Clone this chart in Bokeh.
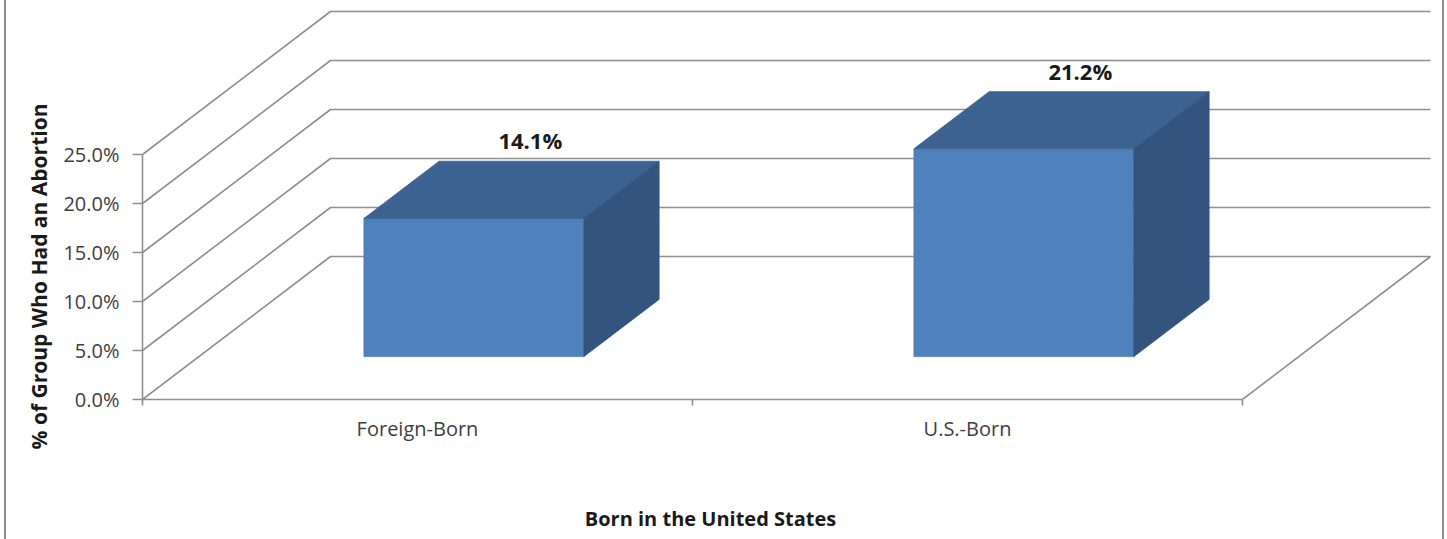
from bokeh.plotting import figure
from bokeh.models import Range1d, FixedTicker, PrintfTickFormatter, LinearAxis
from bokeh.embed import file_html
from bokeh.resources import INLINE
from bokeh.core.properties import value

# ---------------- data ----------------
categories = ["Foreign-Born", "U.S.-Born"]
percentages = [14.1, 21.2]
value_labels = ["14.1%", "21.2%"]
y_ticks = [0, 5, 10, 15, 20, 25]
x_title = "Born in the United States"
y_title = "% of Group Who Had an Abortion"

# ---------------- layout / style ----------------
W, H = 1447, 539
ML = 142               # frame left (front y-axis position)
FRAME_BOTTOM = 399     # front x-axis position
MB = H - FRAME_BOTTOM
PX_X = 550.0           # pixels per category
PX_Y = 9.8             # pixels per percent
frame_w = W - ML
frame_h = FRAME_BOTTOM
DX = 188.0 / PX_X      # depth shift in x (data units) for full depth
DY = 143.0 / PX_Y      # depth shift in y (data units) for full depth
D0, D1 = 0.3, 0.7      # bar depth extent
BAR_W = 0.4
LABEL_D = 0.6
LABEL_GAP = 3.6
n = len(categories)
X_TITLE_POS = (710 - ML) / PX_X
Y_TITLE_POS = (FRAME_BOTTOM - 276) / PX_Y

GRID = "#8f8f8f"
FRONT = "#4f81bd"
TOP = "#3c6291"
SIDE = "#33547f"
TXT = "#404040"
DARK = "#1a1a1a"
FONT = "Open Sans"

p = figure(width=W, height=H, title=None,
           x_range=Range1d(0, frame_w / PX_X), y_range=Range1d(0, frame_h / PX_Y),
           output_backend="svg", toolbar_location=None,
           min_border_left=ML, min_border_bottom=MB, min_border_top=0, min_border_right=0)
# chart-area border lines (left and right), drawn behind the transparent canvas
p.styles = {"background": (
    "linear-gradient(to right, transparent 4px, #8f8f8f 4px, #8f8f8f 6px, transparent 6px), "
    "linear-gradient(to right, transparent 1442px, #8f8f8f 1442px, #8f8f8f 1444px, transparent 1444px), "
    "white")}
p.grid.visible = False
p.outline_line_color = None
p.background_fill_alpha = 0
p.border_fill_alpha = 0

# back wall gridlines, side-wall diagonals, floor edge
wall_xs, wall_ys = [], []
for t in y_ticks:
    wall_xs.append([0, DX, n + DX])
    wall_ys.append([t, t + DY, t + DY])
wall_xs.append([n, n + DX])
wall_ys.append([0, DY])
p.multi_line(wall_xs, wall_ys, line_color=GRID, line_width=1.6)

# 3D bars
xs, ys, cols = [], [], []
for i, v in enumerate(percentages):
    c = i + 0.5
    xl, xr = c - BAR_W / 2, c + BAR_W / 2
    xs.append([xl + DX * D0, xr + DX * D0, xr + DX * D0, xl + DX * D0])
    ys.append([DY * D0, DY * D0, v + DY * D0, v + DY * D0])
    cols.append(FRONT)
    xs.append([xl + DX * D0, xr + DX * D0, xr + DX * D1, xl + DX * D1])
    ys.append([v + DY * D0, v + DY * D0, v + DY * D1, v + DY * D1])
    cols.append(TOP)
    xs.append([xr + DX * D0, xr + DX * D1, xr + DX * D1, xr + DX * D0])
    ys.append([DY * D0, DY * D1, v + DY * D1, v + DY * D0])
    cols.append(SIDE)
p.patches(xs, ys, fill_color=cols, line_color=cols, line_width=0.8)

# value labels
lx = [i + 0.5 + DX * LABEL_D for i in range(n)]
ly = [v + DY * LABEL_D + LABEL_GAP for v in percentages]
p.text(lx, ly, text=value_labels, text_align="center", text_baseline="middle",
       text_font=value(FONT), text_font_style="bold", text_font_size="22px",
       text_color=DARK)

# y axis
ya = p.yaxis[0]
ya.ticker = FixedTicker(ticks=y_ticks)
ya.formatter = PrintfTickFormatter(format="%.1f%%")
ya.bounds = (y_ticks[0], y_ticks[-1])
ya.axis_line_color = GRID
ya.axis_line_width = 1.6
ya.major_tick_line_color = GRID
ya.major_tick_line_width = 1.6
ya.major_tick_out = 10
ya.major_tick_in = 0
ya.minor_tick_line_color = None
ya.major_label_standoff = 13
ya.major_label_text_font = FONT
ya.major_label_text_font_size = "20px"
ya.major_label_text_color = TXT

# x axis
xa = p.xaxis[0]
xa.ticker = FixedTicker(ticks=[i + 0.5 for i in range(n)], minor_ticks=list(range(n + 1)))
xa.major_label_overrides = {i + 0.5: c for i, c in enumerate(categories)}
xa.bounds = (0, n)
xa.axis_line_color = GRID
xa.axis_line_width = 1.6
xa.major_tick_line_color = None
xa.major_tick_out = 0
xa.major_tick_in = 0
xa.minor_tick_line_color = GRID
xa.minor_tick_line_width = 1.6
xa.minor_tick_out = 6
xa.minor_tick_in = 0
xa.major_label_standoff = 9
xa.major_label_text_font = FONT
xa.major_label_text_font_size = "20px"
xa.major_label_text_color = TXT

# axis titles (as single-tick label axes, placed outside the main axes)
yt = LinearAxis(ticker=FixedTicker(ticks=[Y_TITLE_POS]),
                major_label_overrides={Y_TITLE_POS: y_title},
                major_label_orientation="vertical",
                axis_line_color=None, major_tick_line_color=None, minor_tick_line_color=None,
                major_tick_out=0, major_tick_in=0, major_label_standoff=8,
                major_label_text_font=FONT, major_label_text_font_style="bold",
                major_label_text_font_size="21px", major_label_text_color=DARK)
p.add_layout(yt, "left")

xt = LinearAxis(ticker=FixedTicker(ticks=[X_TITLE_POS]),
                major_label_overrides={X_TITLE_POS: x_title},
                axis_line_color=None, major_tick_line_color=None, minor_tick_line_color=None,
                major_tick_out=0, major_tick_in=0, major_label_standoff=60,
                major_label_text_font=FONT, major_label_text_font_style="bold",
                major_label_text_font_size="20px", major_label_text_color=DARK)
p.add_layout(xt, "below")

open("out.html", "w").write(file_html(p, INLINE))
